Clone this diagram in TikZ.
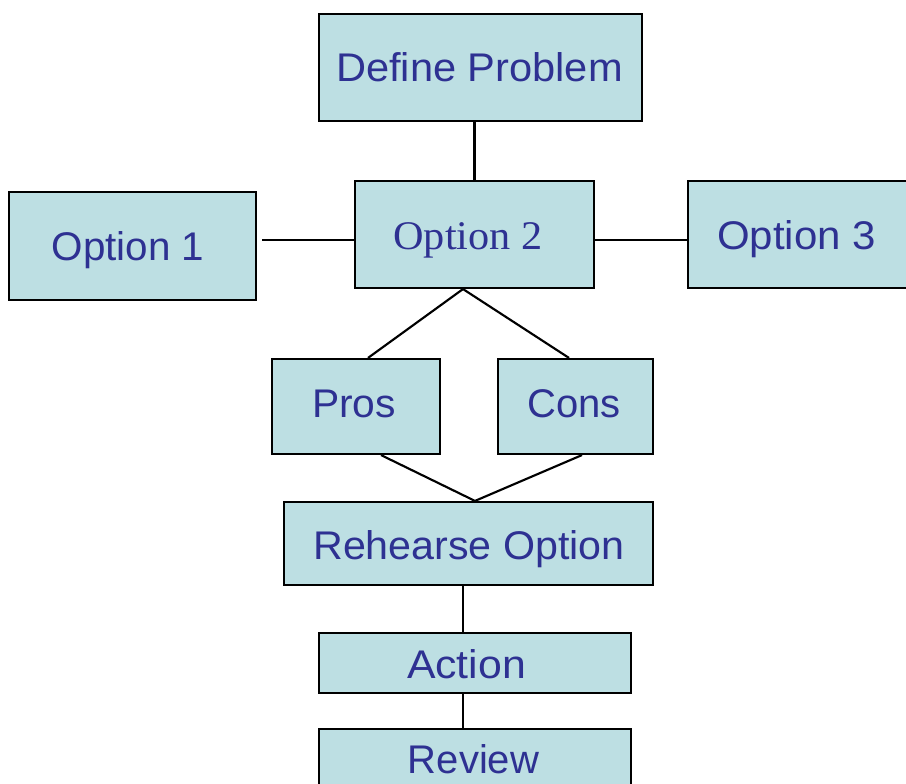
\documentclass[tikz,border=0pt]{standalone}
\usepackage{fontspec}
\usepackage{graphicx}
\setmainfont{Liberation Sans}
\newfontfamily\serifopt{Liberation Serif}
\definecolor{boxfill}{RGB}{189,223,227}
\definecolor{txtblue}{RGB}{46,49,146}
\begin{document}
\begin{tikzpicture}[x=0.75pt,y=-0.75pt,
  box/.style={draw=black, line width=1.6pt, fill=boxfill, inner sep=0pt},
  lbl/.style={anchor=base, inner sep=0pt, text=txtblue, font=\fontsize{30}{36}\selectfont},
  conn/.style={draw=black, line width=1.6pt}]
\useasboundingbox (0,0) rectangle (906,784);
\clip (0,0) rectangle (906,784);
% boxes
\node[box, minimum width=323*0.75pt, minimum height=107*0.75pt] (dp) at (480.5,67.5) {};
\node[box, minimum width=247*0.75pt, minimum height=108*0.75pt] (o1) at (132.5,246) {};
\node[box, minimum width=239*0.75pt, minimum height=107*0.75pt] (o2) at (474.5,234.5) {};
\node[box, minimum width=242*0.75pt, minimum height=107*0.75pt] (o3) at (809,234.5) {};
\node[box, minimum width=168*0.75pt, minimum height=95*0.75pt] (pros) at (356,406.5) {};
\node[box, minimum width=155*0.75pt, minimum height=95*0.75pt] (cons) at (575.5,406.5) {};
\node[box, minimum width=369*0.75pt, minimum height=83*0.75pt] (reh) at (468.5,543.5) {};
\node[box, minimum width=312*0.75pt, minimum height=60*0.75pt] (act) at (475,663) {};
\node[box, minimum width=312*0.75pt, minimum height=71*0.75pt] (rev) at (475,764.5) {};
% labels
\node[lbl] (dpt) at (479.5,82) {\scalebox{1.04}[1]{Define Problem}};
\node[lbl] (o1t) at (128,261) {\scalebox{1.01}[1]{Option 1}};
\node[lbl, font=\serifopt\fontsize{30.5}{36}\selectfont] (o2t) at (468,249) {\scalebox{1.04}[1]{Option 2}};
\node[lbl] (o3t) at (796.5,249) {\scalebox{1.05}[1]{Option 3}};
\node[lbl] (prost) at (354,417) {\scalebox{1.02}[1]{Pros}};
\node[lbl] (const) at (574,417) {Cons};
\node[lbl] (reht) at (469,559) {\scalebox{1.03}[1]{Rehearse Option}};
\node[lbl] (actt) at (466.5,678) {\scalebox{1.07}[1]{Action}};
\node[lbl] (revt) at (473.5,773) {Review};
% connector end points
\coordinate (o1r) at ([xshift=5*0.75pt, yshift=6*0.75pt]o1.east);
\coordinate (o2l) at ([yshift=-5.5*0.75pt]o2.west);
\coordinate (o2r) at ([yshift=-5.5*0.75pt]o2.east);
\coordinate (o2b) at ([xshift=-11.5*0.75pt]o2.south);
\coordinate (prosn) at ([xshift=12*0.75pt]pros.north);
\coordinate (consn) at ([xshift=-6.5*0.75pt]cons.north);
\coordinate (pross) at ([xshift=25*0.75pt]pros.south);
\coordinate (conss) at ([xshift=6.5*0.75pt]cons.south);
\coordinate (rehn) at ([xshift=6.5*0.75pt]reh.north);
\coordinate (rehs) at ([xshift=-5.5*0.75pt]reh.south);
\coordinate (actn) at ([xshift=-12*0.75pt]act.north);
\coordinate (acts) at ([xshift=-12*0.75pt]act.south);
\coordinate (revn) at ([xshift=-12*0.75pt]rev.north);
% connectors
\draw[conn] (o2.north) -- (o2.north |- dp.south);
\draw[conn] (o1r) -- (o2l);
\draw[conn] (o2r) -- (o2r -| o3.west);
\draw[conn] (prosn) -- (o2b) -- (consn);
\draw[conn] (pross) -- (rehn) -- (conss);
\draw[conn] (rehs) -- (actn);
\draw[conn] (acts) -- (revn);
\end{tikzpicture}
\end{document}
